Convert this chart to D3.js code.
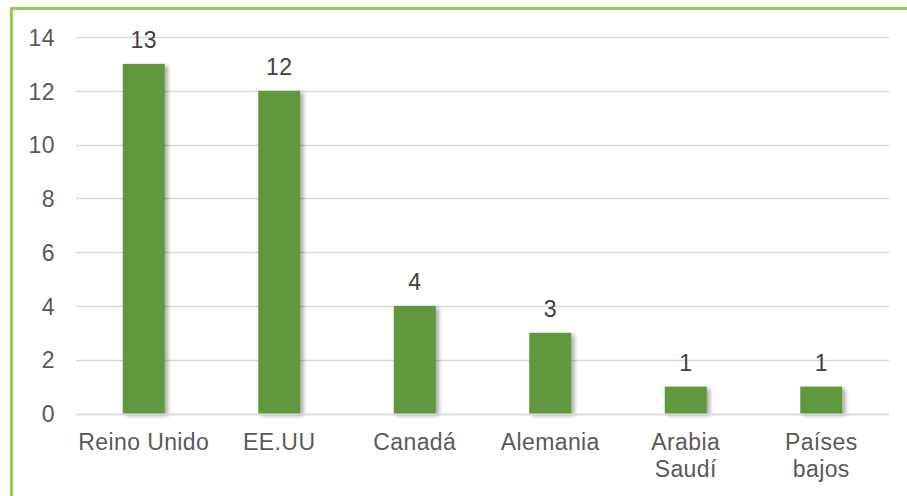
<!DOCTYPE html>
<html>
<head>
<meta charset="utf-8">
<script src="https://cdn.jsdelivr.net/npm/d3@7/dist/d3.min.js"></script>
<style>
  html, body { margin: 0; padding: 0; background: #fff; }
  svg { display: block; }
</style>
</head>
<body>
<svg id="chart" width="907" height="496"></svg>
<script>
// Countries and their counts
const categories = ["Reino Unido", "EE.UU", "Canadá", "Alemania", "Arabia Saudí", "Países bajos"];
const categoryLabels = [["Reino Unido"], ["EE.UU"], ["Canadá"], ["Alemania"], ["Arabia", "Saudí"], ["Países", "bajos"]];
const values = [13, 12, 4, 3, 1, 1];
const yTicks = [0, 2, 4, 6, 8, 10, 12, 14];

const W = 907, H = 496;
const margin = { left: 76, right: 18, top: 37, bottom: 83 };
const svg = d3.select("#chart");
const font = "'Liberation Sans', Arial, sans-serif";
const fs = 23, ls = 0.4;

const x = d3.scaleBand().domain(categories).range([margin.left, W - margin.right]).paddingInner(0.69).paddingOuter(0.345);
const y = d3.scaleLinear().domain([0, 14]).range([H - margin.bottom + 0.5, margin.top]);

// drop shadow for bars
const defs = svg.append("defs");
const f = defs.append("filter").attr("id", "shadow").attr("x", "-20%").attr("y", "-20%").attr("width", "160%").attr("height", "140%");
f.append("feDropShadow").attr("dx", 3).attr("dy", 2).attr("stdDeviation", 2)
  .attr("flood-color", "#000").attr("flood-opacity", 0.35);

// frame (top and left edges visible)
svg.append("line").attr("x1", 10).attr("x2", W).attr("y1", 8.5).attr("y2", 8.5)
  .attr("stroke", "#92d050").attr("stroke-width", 3);
svg.append("line").attr("x1", 11.5).attr("x2", 11.5).attr("y1", 7).attr("y2", H)
  .attr("stroke", "#92d050").attr("stroke-width", 3);

// gridlines
const xr = [margin.left, W - margin.right];
svg.append("g").selectAll("line").data(yTicks).join("line")
  .attr("x1", xr[0]).attr("x2", xr[1])
  .attr("y1", d => Math.round(y(d)) + 0.5).attr("y2", d => Math.round(y(d)) + 0.5)
  .attr("stroke", "#d9d9d9").attr("stroke-width", 1.5);

// y-axis labels
const yAxis = d3.axisLeft(y).tickValues(yTicks).tickSize(0).tickPadding(0);
const gy = svg.append("g").attr("transform", `translate(55,0)`).call(yAxis);
gy.select(".domain").remove();
gy.selectAll("text").attr("font-family", font).attr("font-size", fs).attr("letter-spacing", ls)
  .attr("fill", "#595959").attr("dy", "0.36em");

// bars
svg.append("g").selectAll("rect").data(values).join("rect")
  .attr("x", (d, i) => x(categories[i]))
  .attr("y", d => y(d))
  .attr("width", x.bandwidth())
  .attr("height", d => y(0) - y(d))
  .attr("fill", "#60993e")
  .attr("filter", "url(#shadow)");

// value labels
svg.append("g").selectAll("text").data(values).join("text")
  .attr("x", (d, i) => x(categories[i]) + x.bandwidth() / 2)
  .attr("y", d => y(d) - 16)
  .attr("text-anchor", "middle")
  .attr("font-family", font).attr("font-size", fs).attr("letter-spacing", ls).attr("fill", "#404040")
  .text(d => d);

// x-axis line
svg.append("line").attr("x1", xr[0]).attr("x2", xr[1])
  .attr("y1", Math.round(y(0)) + 0.5).attr("y2", Math.round(y(0)) + 0.5)
  .attr("stroke", "#d9d9d9").attr("stroke-width", 1.5);

// category labels
const cat = svg.append("g").selectAll("text").data(categories).join("text")
  .attr("x", d => x(d) + x.bandwidth() / 2)
  .attr("y", 450)
  .attr("text-anchor", "middle")
  .attr("font-family", font).attr("font-size", fs).attr("letter-spacing", ls).attr("fill", "#595959");
cat.each(function (d, i) {
  const t = d3.select(this);
  categoryLabels[i].forEach((line, j) => {
    t.append("tspan").attr("x", x(d) + x.bandwidth() / 2).attr("dy", j === 0 ? 0 : 27).text(line);
  });
});
</script>
</body>
</html>
